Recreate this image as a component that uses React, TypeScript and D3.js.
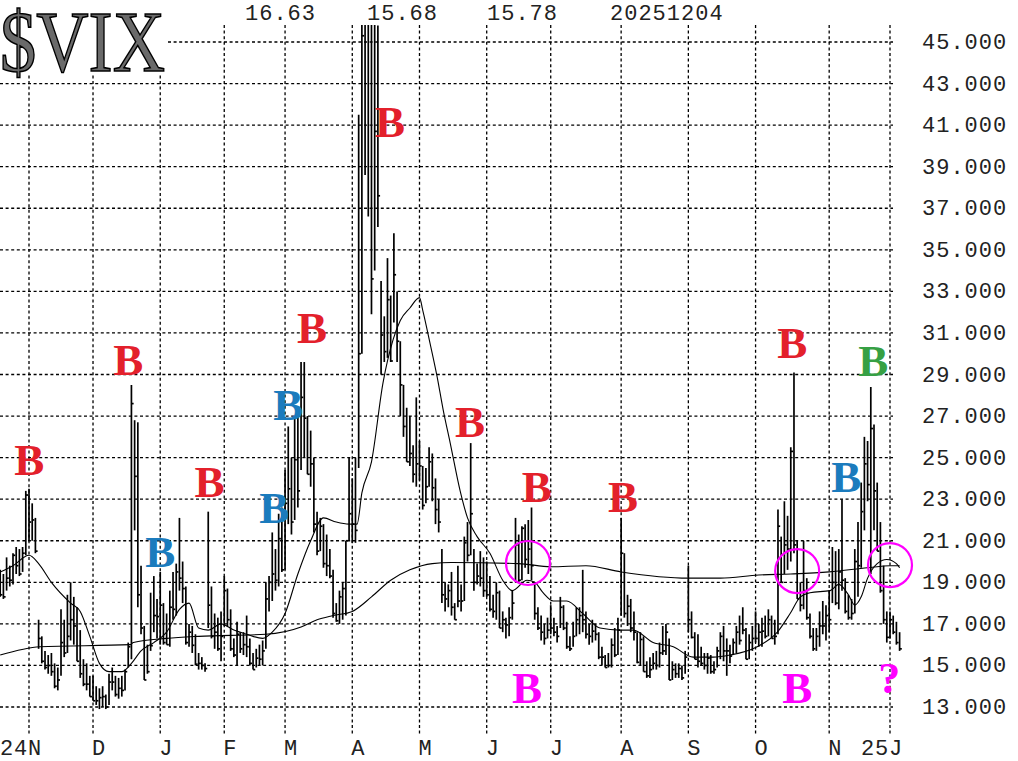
import React from 'react';
import * as d3 from 'd3';

// ---- Daily $VIX bars (Oct 21 2024 .. Dec 4 2025), index = trading day ----
const highs = [
  19.6, 19.4, 20.2, 19.8, 20.4, 20.7, 20.6, 20.7, 23.4, 23.5,
  22.8, 22.1, 17.2, 16.4, 15.7, 15.5, 15.6, 15.1, 14.9, 17.7,
  17.2, 18.4, 19.0, 18.3, 17.8, 16.7, 15.3, 15.1, 14.5, 14.5,
  14.0, 13.9, 14.0, 13.6, 14.6, 14.9, 14.5, 14.4, 14.5, 14.8,
  16.1, 28.5, 26.8, 26.7, 19.8, 16.9, 16.0, 18.5, 19.3, 18.2,
  19.5, 18.0, 17.5, 18.6, 19.5, 19.9, 22.1, 20.0, 18.8, 17.0,
  16.9, 16.5, 15.6, 15.4, 15.1, 22.4, 18.8, 17.5, 17.3, 17.6,
  19.3, 18.7, 17.7, 16.3, 17.1, 16.6, 16.6, 17.4, 16.3, 15.6,
  15.8, 16.0, 16.2, 19.0, 19.3, 21.4, 20.6, 22.3, 22.6, 24.4,
  26.5, 25.0, 27.0, 27.4, 29.6, 29.6, 27.0, 26.3, 25.0, 22.4,
  22.1, 21.8, 21.3, 20.6, 19.6, 18.0, 18.6, 19.0, 21.0, 25.0,
  24.0, 25.0, 41.5, 60.1, 60.1, 57.5, 57.5, 54.9, 45.8, 33.5,
  31.8, 34.6, 32.8, 35.8, 33.0, 30.6, 28.5, 27.4, 27.0, 25.6,
  27.9, 25.8, 24.6, 24.5, 25.5, 25.2, 24.0, 23.0, 20.6, 19.0,
  18.9, 19.5, 18.0, 19.8, 18.9, 21.2, 21.9, 25.7, 20.6, 19.9,
  20.5, 20.2, 20.0, 19.3, 18.4, 19.0, 18.6, 17.6, 17.3, 17.8,
  18.6, 22.1, 21.3, 21.7, 21.8, 22.0, 22.6, 19.0, 17.8, 17.4,
  17.0, 17.3, 17.9, 17.3, 16.9, 18.3, 17.9, 17.1, 16.4, 17.1,
  17.8, 17.8, 19.6, 17.6, 17.0, 17.2, 17.0, 16.6, 15.9, 15.5,
  15.6, 16.3, 16.8, 17.3, 22.1, 20.4, 18.4, 18.2, 17.6, 16.6,
  16.6, 16.4, 15.2, 15.4, 15.6, 15.7, 16.1, 16.9, 17.0, 16.3,
  15.2, 15.1, 15.1, 15.0, 15.7, 19.8, 17.6, 16.6, 16.5, 15.9,
  15.6, 15.6, 15.5, 15.2, 15.9, 16.6, 16.9, 16.3, 16.0, 16.3,
  16.9, 17.4, 17.8, 16.8, 16.5, 16.9, 17.6, 17.0, 17.3, 17.4,
  17.7, 17.4, 17.2, 22.5, 21.2, 22.9, 22.2, 25.5, 29.1, 21.0,
  19.0, 21.0, 19.2, 17.5, 16.8, 16.8, 17.6, 18.1, 17.9, 18.6,
  20.7, 20.5, 20.6, 23.0, 19.2, 18.4, 18.2, 20.6, 21.9, 23.8,
  26.0, 25.8, 28.4, 26.6, 23.8, 21.9, 19.8, 17.6, 17.6, 17.4,
  17.1, 16.6,
];
const lows = [
  18.3, 18.2, 18.6, 18.8, 18.9, 19.4, 19.3, 19.5, 20.3, 21.0,
  21.0, 20.4, 15.8, 15.1, 14.8, 14.6, 14.5, 13.9, 13.8, 14.5,
  15.4, 15.6, 16.2, 16.0, 15.2, 14.4, 14.0, 13.8, 13.5, 13.3,
  13.1, 12.9, 13.0, 12.9, 13.1, 13.8, 13.5, 13.4, 13.5, 13.8,
  14.9, 15.3, 21.5, 17.8, 16.5, 14.3, 14.6, 15.7, 16.6, 16.3,
  16.0, 16.0, 16.0, 15.9, 17.2, 17.4, 18.6, 18.0, 16.0, 15.9,
  15.6, 15.0, 14.8, 14.8, 14.7, 16.8, 16.3, 15.8, 15.7, 15.2,
  16.9, 16.9, 15.7, 15.4, 15.0, 15.6, 15.5, 15.4, 15.0, 14.8,
  14.9, 15.0, 15.0, 15.8, 17.6, 18.1, 18.6, 18.8, 19.5, 19.6,
  21.8, 21.3, 22.0, 22.6, 24.4, 25.0, 24.2, 23.6, 21.4, 20.3,
  20.5, 19.7, 19.3, 19.2, 17.3, 17.1, 17.0, 17.2, 17.4, 21.0,
  20.9, 20.9, 24.5, 30.0, 38.6, 36.6, 31.9, 34.0, 36.1, 29.0,
  29.6, 29.8, 29.6, 31.5, 29.6, 27.0, 26.0, 24.8, 24.6, 23.8,
  23.6, 23.9, 22.5, 22.8, 23.6, 22.9, 21.8, 21.4, 18.0, 17.6,
  17.8, 17.4, 17.2, 17.8, 17.6, 18.1, 20.0, 20.3, 18.6, 18.9,
  18.8, 18.3, 18.3, 17.6, 17.3, 17.2, 16.8, 16.6, 16.3, 16.4,
  17.2, 19.0, 19.0, 19.1, 19.7, 19.4, 19.1, 17.2, 16.7, 16.2,
  16.0, 16.3, 16.5, 16.4, 16.1, 16.8, 16.7, 15.8, 15.7, 15.9,
  16.4, 16.5, 16.6, 16.3, 16.0, 16.1, 16.2, 15.3, 15.0, 14.9,
  14.9, 14.9, 15.4, 15.5, 17.4, 17.3, 16.9, 16.6, 16.2, 15.1,
  15.0, 14.7, 14.4, 14.4, 14.8, 14.8, 14.9, 15.5, 15.5, 14.3,
  14.3, 14.4, 14.4, 14.3, 14.6, 16.6, 16.3, 15.3, 14.9, 15.0,
  14.8, 14.6, 14.6, 14.6, 14.9, 15.3, 15.2, 14.5, 15.1, 15.5,
  15.6, 16.0, 16.5, 15.3, 15.3, 15.7, 16.1, 15.9, 15.9, 16.3,
  16.4, 16.3, 16.0, 16.5, 19.0, 19.4, 19.6, 20.0, 20.4, 18.2,
  17.6, 17.7, 17.2, 16.3, 15.7, 15.7, 15.9, 16.5, 16.2, 16.6,
  18.0, 17.9, 17.7, 18.6, 17.5, 17.2, 17.2, 17.5, 18.3, 19.7,
  21.5, 22.9, 19.4, 21.5, 20.5, 18.5, 17.0, 16.1, 16.3, 16.5,
  16.0, 15.7,
];
const closes = [
  18.4, 18.3, 19.2, 19.1, 20.3, 19.8, 19.4, 20.4, 23.2, 21.9,
  22.0, 20.5, 16.3, 15.2, 14.9, 15.0, 14.7, 14.0, 14.3, 16.1,
  15.6, 16.4, 17.2, 16.9, 15.2, 14.6, 14.1, 14.1, 13.5, 13.3,
  13.3, 13.45, 13.5, 13.0, 14.2, 14.2, 13.6, 13.9, 13.8, 14.7,
  15.9, 27.6, 24.1, 18.4, 16.8, 14.3, 14.7, 15.95, 17.4, 17.35,
  17.9, 16.1, 16.0, 17.8, 17.7, 19.5, 19.2, 18.7, 16.1, 16.6,
  15.97, 15.06, 15.1, 15.0, 14.85, 17.9, 16.4, 16.6, 15.8, 16.4,
  18.6, 17.2, 15.8, 15.5, 16.5, 15.8, 16.0, 15.9, 15.1, 14.8,
  15.35, 15.3, 15.7, 18.2, 19.0, 19.4, 19.1, 21.1, 19.6, 22.8,
  23.5, 21.9, 24.9, 23.4, 27.9, 26.9, 24.2, 24.7, 21.8, 20.5,
  21.7, 19.9, 19.8, 19.3, 17.5, 17.15, 18.3, 18.7, 21.0, 22.3,
  21.8, 21.5, 30.0, 45.3, 47.0, 52.3, 33.6, 40.7, 37.6, 30.9,
  30.1, 32.6, 29.65, 33.8, 30.6, 28.5, 26.5, 24.8, 25.2, 24.2,
  24.7, 24.6, 22.7, 23.6, 24.8, 23.55, 22.5, 21.9, 18.4, 18.2,
  18.6, 17.8, 17.2, 18.1, 18.1, 20.9, 20.3, 22.3, 19.0, 19.3,
  19.2, 18.6, 18.4, 17.7, 17.6, 18.5, 16.8, 17.2, 16.95, 17.3,
  18.0, 20.8, 19.1, 21.6, 20.1, 20.6, 19.8, 17.5, 16.8, 16.6,
  16.3, 16.7, 16.8, 16.6, 16.4, 17.8, 16.8, 15.9, 15.8, 16.4,
  17.2, 17.4, 17.2, 16.5, 16.4, 16.65, 16.5, 15.4, 15.4, 14.9,
  15.0, 15.98, 15.5, 16.7, 20.4, 17.5, 17.85, 16.8, 16.6, 15.15,
  16.25, 14.7, 14.5, 14.8, 15.1, 15.0, 15.6, 15.7, 16.6, 14.3,
  14.8, 14.6, 14.85, 14.4, 15.4, 17.2, 16.35, 15.3, 15.2, 15.1,
  15.0, 15.35, 14.7, 14.8, 15.7, 16.4, 15.7, 15.7, 15.45, 16.1,
  16.6, 16.2, 16.7, 15.3, 16.1, 16.3, 16.3, 16.6, 16.65, 16.4,
  17.2, 16.3, 16.4, 21.7, 19.0, 20.8, 20.6, 25.3, 20.8, 18.2,
  17.9, 18.6, 17.3, 16.4, 15.8, 16.4, 16.9, 16.9, 17.4, 17.2,
  19.0, 18.0, 19.5, 19.1, 17.6, 17.3, 17.5, 20.0, 19.8, 22.4,
  24.7, 23.7, 26.4, 23.4, 20.5, 18.6, 17.2, 16.35, 17.2, 16.6,
  16.1, 15.8,
];

// ---- 20-day moving average ----
const ma20Days = [
  0, 4, 9, 12, 16, 22, 25, 28, 31, 34, 38, 41, 44, 48, 52, 56, 59, 62, 65, 69,
  73, 77, 82, 85, 89, 93, 97, 101, 105, 109, 111.5, 113, 116, 119.6, 122.8, 125, 128, 131, 132, 134.3,
  136.5, 138.4, 140.6, 143.7, 146, 149, 153, 157, 160, 164.6, 167, 169.6, 172.8, 177, 182, 187.4, 193.7, 197.8, 204, 210.3,
  216.5, 222.8, 228, 236.5, 242.8, 246.8, 250, 253, 259.3, 262, 265, 267, 269, 271, 274, 277, 280, 281,
];
const ma20Values = [
  19.5, 19.8, 20.3, 19.9, 19.0, 18.0, 17.6, 16.4, 15.1, 14.7, 14.7, 15.1, 15.7, 16.1, 16.6, 17.7, 18.0, 16.8, 16.7, 17.0,
  16.7, 16.5, 16.3, 16.6, 17.5, 19.4, 21.0, 22.1, 21.9, 21.8, 21.8, 23.3, 24.8, 28.6, 30.7, 31.6, 32.2, 32.7, 32.1, 30.5,
  28.9, 27.3, 25.7, 23.4, 22.1, 21.2, 20.4, 19.1, 18.6, 19.1, 19.0, 18.5, 18.1, 18.1, 17.5, 16.8, 16.7, 16.7, 16.1, 15.9,
  15.4, 15.4, 15.5, 15.9, 16.6, 17.5, 18.3, 18.5, 18.6, 18.9, 18.4, 17.9, 18.3, 19.2, 19.9, 20.1, 19.9, 19.7,
];

// ---- 200-day moving average ----
const ma200Days = [0, 12.4, 40.6, 41.6, 52, 62, 83, 94, 99, 104, 110, 116, 122, 128, 135, 141, 162, 172, 183, 194, 215, 225, 237, 247, 259, 271, 278, 281];
const ma200Values = [15.5, 15.9, 16.0, 16.1, 16.3, 16.4, 16.5, 16.85, 17.2, 17.4, 17.6, 18.3, 19.1, 19.6, 19.9, 19.95, 19.9, 19.75, 19.8, 19.5, 19.2, 19.2, 19.35, 19.4, 19.5, 19.7, 19.8, 19.8];

// ---- axes ----
const monthTickDays = [9, 29, 50, 70, 89, 110, 131, 152, 172, 194, 215, 236, 259, 278];
const monthTickLabels = ['24N', 'D', 'J', 'F', 'M', 'A', 'M', 'J', 'J', 'A', 'S', 'O', 'N', '25J'];
const yTickValues = [13, 15, 17, 19, 21, 23, 25, 27, 29, 31, 33, 35, 37, 39, 41, 43, 45];
const headerTexts = ['16.63', '15.68', '15.78', '20251204'];
const titleText = '$VIX';

// ---- annotations (day index, value) ----
const signalDays = [9.1, 40, 65.4, 97.4, 121.8, 146.8, 167.6, 194.6, 247.5, 50, 90, 85.6, 264.3, 272.8, 164.6, 249];
const signalValues = [24.16, 28.97, 23.1, 30.5, 40.43, 26.0, 22.86, 22.38, 29.8, 19.74, 26.8, 21.85, 23.34, 28.93, 13.19, 13.19];
const signalKinds = ['red', 'red', 'red', 'red', 'red', 'red', 'red', 'red', 'red', 'blue', 'blue', 'blue', 'blue', 'green', 'magenta', 'magenta'];
const questionDay = 277.8;
const questionValue = 13.67;
const circleDays = [164.9, 249, 278];
const circleValues = [19.93, 19.54, 19.83];

const COLORS: Record<string, string> = {
  red: '#e3202b',
  blue: '#1b7bbd',
  green: '#36a044',
  magenta: '#ff00ff',
};

const MONO = "'Liberation Mono', 'DejaVu Sans Mono', monospace";
const SERIF = "'Liberation Serif', 'Times New Roman', serif";

export default function App() {
  const W = 1018;
  const H = 761;
  const x = d3.scaleLinear().domain([9, 278]).range([29, 890]);
  const y = d3.scaleLinear().domain([13, 45]).range([707, 42]);

  const gridRight = 893;
  const gridTop = 25;
  const gridBottom = 734;

  const line = d3
    .line<[number, number]>()
    .x((d) => x(d[0]))
    .y((d) => y(d[1]))
    .curve(d3.curveMonotoneX);

  const ma20Path = line(ma20Days.map((d, i) => [d, ma20Values[i]] as [number, number])) || '';
  const ma200Path = line(ma200Days.map((d, i) => [d, ma200Values[i]] as [number, number])) || '';

  const headerX = [245, 367, 487, 610];

  return (
    <svg
      width={W}
      height={H}
      style={{ position: 'absolute', left: 0, top: 0, display: 'block', background: '#fff' }}
    >
      <defs>
        <clipPath id="plotClip">
          <rect x={0} y={gridTop} width={910} height={gridBottom - gridTop} />
        </clipPath>
      </defs>
      <rect x={0} y={0} width={W} height={H} fill="#fff" />

      {/* horizontal grid */}
      {yTickValues.map((v) => (
        <line
          key={'h' + v}
          x1={0}
          x2={gridRight}
          y1={y(v)}
          y2={y(v)}
          stroke="#000"
          strokeWidth={1.3}
          strokeDasharray="3 2.6"
        />
      ))}
      {/* vertical grid */}
      {monthTickDays.map((d) => (
        <line
          key={'v' + d}
          x1={x(d)}
          x2={x(d)}
          y1={gridTop}
          y2={gridBottom}
          stroke="#000"
          strokeWidth={1.3}
          strokeDasharray="3 2.6"
        />
      ))}

      {/* title */}
      <rect x={0} y={0} width={167} height={73} fill="#fff" />
      <text
        x={0}
        y={71}
        fontFamily={SERIF}
        fontSize={86}
        textLength={165}
        lengthAdjust="spacingAndGlyphs"
        fill="#6a6a6a"
        stroke="#000"
        strokeWidth={1.6}
      >
        {titleText}
      </text>

      {/* header numbers */}
      {headerTexts.map((t, i) => (
        <text key={'hd' + i} x={headerX[i]} y={20} fontFamily={MONO} fontSize={22} letterSpacing={1} fill="#222">
          {t}
        </text>
      ))}

      {/* y labels */}
      {yTickValues.map((v) => (
        <text key={'yl' + v} x={922} y={y(v) + 7} fontFamily={MONO} fontSize={22} letterSpacing={1} fill="#222">
          {v.toFixed(3)}
        </text>
      ))}

      {/* x labels */}
      {monthTickDays.map((d, i) => {
        const lab = monthTickLabels[i];
        const pitch = 14;
        return (
          <text
            key={'xl' + i}
            x={x(d) - (lab.length - 1) * pitch - 1}
            y={755}
            fontFamily={MONO}
            fontSize={22}
            letterSpacing={0.8}
            fill="#222"
          >
            {lab}
          </text>
        );
      })}

      {/* bars */}
      <g clipPath="url(#plotClip)">
        {highs.map((h, i) => (
          <g key={'b' + i}>
            <line x1={x(i)} x2={x(i)} y1={y(h)} y2={y(lows[i])} stroke="#000" strokeWidth={1.7} />
            <line x1={x(i)} x2={x(i) + 2.2} y1={y(closes[i])} y2={y(closes[i])} stroke="#000" strokeWidth={1.7} />
          </g>
        ))}
        <path d={ma200Path} fill="none" stroke="#000" strokeWidth={1.1} />
        <path d={ma20Path} fill="none" stroke="#000" strokeWidth={1.1} />
      </g>

      {/* signal letters */}
      {signalDays.map((d, i) => (
        <text
          key={'s' + i}
          x={x(d)}
          y={y(signalValues[i])}
          textAnchor="middle"
          fontFamily={SERIF}
          fontWeight="bold"
          fontSize={45}
          fill={COLORS[signalKinds[i]]}
        >
          B
        </text>
      ))}
      <text
        x={x(questionDay)}
        y={y(questionValue)}
        textAnchor="middle"
        fontFamily={SERIF}
        fontWeight="bold"
        fontSize={44}
        fill={COLORS.magenta}
      >
        ?
      </text>

      {/* circles */}
      {circleDays.map((d, i) => (
        <circle key={'c' + i} cx={x(d)} cy={y(circleValues[i])} r={22} fill="none" stroke={COLORS.magenta} strokeWidth={2.2} />
      ))}
    </svg>
  );
}
